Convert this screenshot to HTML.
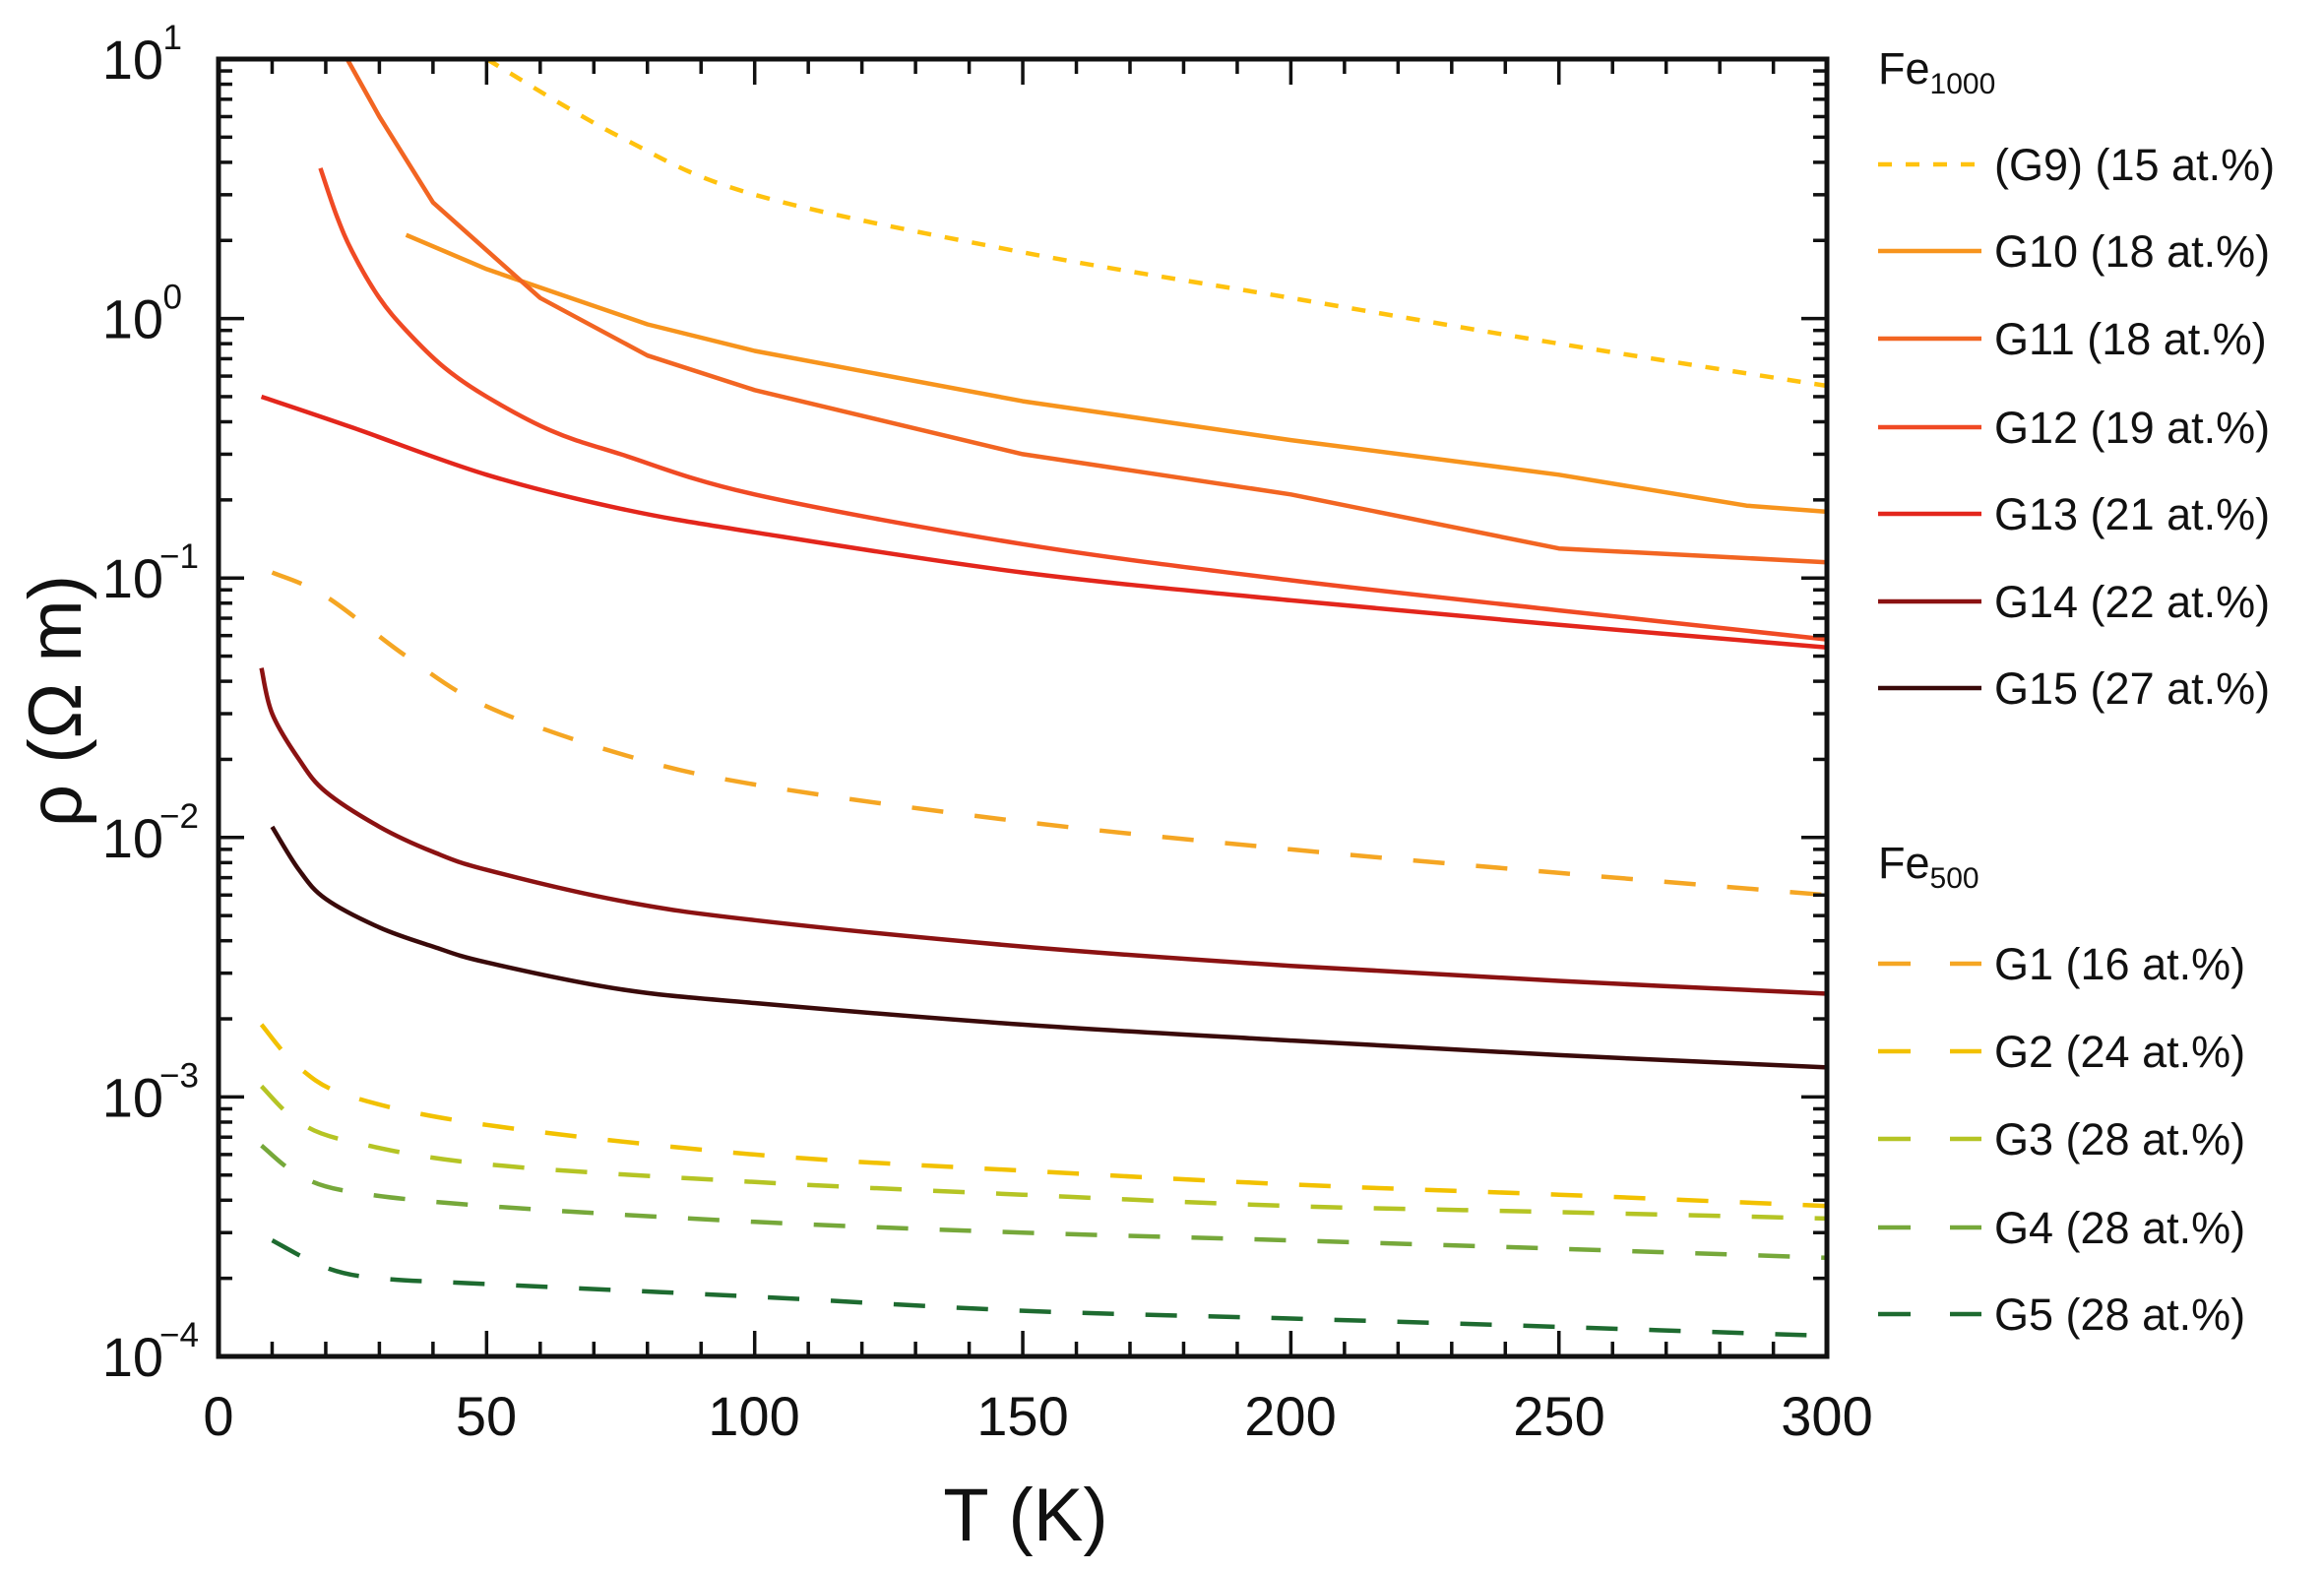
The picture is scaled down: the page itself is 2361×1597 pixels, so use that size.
<!DOCTYPE html>
<html><head><meta charset="utf-8"><style>
html,body{margin:0;padding:0;background:#fff;}
svg{display:block;font-family:"Liberation Sans",Arial,sans-serif;}
</style></head><body>
<svg id="s" width="2361" height="1597" viewBox="0 0 2361 1597" xmlns="http://www.w3.org/2000/svg">
<rect width="2361" height="1597" fill="#fff"/>
<g id="curves" fill="none" stroke-width="4.5" stroke-linejoin="round"></g>
<g id="ticks" stroke="#111" stroke-width="3.5"></g>
<rect x="222" y="60" width="1634" height="1318" fill="none" stroke="#111" stroke-width="5"/>
<g font-size="56" fill="#111" text-anchor="middle">
<text x="222" y="1458">0</text><text x="494" y="1458">50</text><text x="766" y="1458">100</text>
<text x="1039" y="1458">150</text><text x="1311" y="1458">200</text><text x="1584" y="1458">250</text>
<text x="1856" y="1458">300</text>
</g>
<g font-size="56" fill="#111" text-anchor="end" id="ylab"></g>
<text x="1042" y="1565" font-size="76" text-anchor="middle" fill="#111">T (K)</text>
<text transform="translate(82,712) rotate(-90)" font-size="76" text-anchor="middle" fill="#111">ρ (Ω m)</text>
<g font-size="45" fill="#111" id="leg"></g>
</svg>
<script>
var NS="http://www.w3.org/2000/svg";
function X(t){return 222+t*5.447;}
function Y(r){return 60+(1-Math.log10(r))*263.6;}
function el(n,a,p,txt){var e=document.createElementNS(NS,n);for(var k in a)e.setAttribute(k,a[k]);if(txt!==undefined)e.textContent=txt;p.appendChild(e);return e;}
var S=[
 ["#ffc20e","14 14",[[50,10],[75,5],[100,3],[150,1.8],[200,1.2],[250,0.8],[300,0.55]],1],
 ["#f7941d",null,[[35,2.1],[50,1.55],[80,0.95],[100,0.75],[150,0.48],[200,0.34],[250,0.25],[285,0.19],[300,0.18]],0],
 ["#f26522",null,[[24,10],[30,6],[40,2.8],[60,1.2],[80,0.72],[100,0.53],[150,0.3],[200,0.21],[250,0.13],[300,0.115]],0],
 ["#f04a24",null,[[19,3.8],[22,2.5],[25,1.8],[30,1.2],[35,0.9],[42,0.65],[50,0.5],[62,0.37],[75,0.3],[100,0.21],[150,0.135],[200,0.098],[250,0.075],[300,0.058]],1],
 ["#e3261c",null,[[8,0.5],[25,0.38],[50,0.25],[75,0.185],[100,0.15],[150,0.105],[200,0.082],[250,0.066],[300,0.054]],1],
 ["#8b1212",null,[[8,0.045],[10,0.03],[15,0.02],[20,0.015],[30,0.011],[40,0.0088],[50,0.0075],[75,0.0057],[100,0.0048],[150,0.0038],[200,0.0032],[250,0.0028],[300,0.0025]],1],
 ["#3a0a0a",null,[[10,0.011],[15,0.0075],[20,0.0058],[30,0.0045],[40,0.0038],[50,0.0033],[75,0.0026],[100,0.0023],[150,0.0019],[200,0.00165],[250,0.00145],[300,0.0013]],1],
 ["#f5a623","32 32",[[10,0.105],[20,0.085],[35,0.05],[50,0.032],[75,0.021],[100,0.016],[150,0.0115],[200,0.009],[250,0.0073],[300,0.006]],1],
 ["#f2c100","32 32",[[8,0.0019],[15,0.0013],[25,0.001],[50,0.00078],[100,0.0006],[150,0.00052],[200,0.00046],[250,0.00042],[300,0.00038]],1],
 ["#b5c424","32 32",[[8,0.0011],[15,0.0008],[25,0.00067],[50,0.00055],[100,0.00047],[150,0.00042],[200,0.00038],[250,0.00036],[300,0.00034]],1],
 ["#76a83a","32 32",[[8,0.00065],[15,0.0005],[25,0.00043],[50,0.00038],[100,0.00033],[150,0.0003],[200,0.00028],[250,0.00026],[300,0.00024]],1],
 ["#1e6b30","32 32",[[10,0.00028],[20,0.00022],[30,0.0002],[50,0.00019],[100,0.00017],[150,0.00015],[200,0.00014],[250,0.00013],[300,0.00012]],1]
];
var cg=document.getElementById("curves");
function f(v){return v.toFixed(1);}
S.forEach(function(s){var P=s[2].map(function(p){return [X(p[0]),Y(p[1])];});var d="M"+f(P[0][0])+","+f(P[0][1]);
 for(var i=0;i<P.length-1;i++){var p1=P[i],p2=P[i+1];
  if(s[3]){var p0=P[i-1]||p1,p3=P[i+2]||p2;
   var c1=[p1[0]+(p2[0]-p0[0])/6,p1[1]+(p2[1]-p0[1])/6],c2=[p2[0]-(p3[0]-p1[0])/6,p2[1]-(p3[1]-p1[1])/6];
   d+="C"+f(c1[0])+","+f(c1[1])+" "+f(c2[0])+","+f(c2[1])+" "+f(p2[0])+","+f(p2[1]);}
  else d+="L"+f(p2[0])+","+f(p2[1]);}
 var a={d:d,stroke:s[0]};if(s[1])a["stroke-dasharray"]=s[1];el("path",a,cg);});
var tg=document.getElementById("ticks");
for(var t=10;t<300;t+=10){var L=(t%50==0)?26:15;el("line",{x1:X(t),x2:X(t),y1:1378,y2:1378-L},tg);el("line",{x1:X(t),x2:X(t),y1:60,y2:60+L},tg);}
for(var dcd=-4;dcd<=1;dcd++){for(var m=1;m<=9;m++){if(dcd==1&&m>1)break;var y=Y(m*Math.pow(10,dcd));var L=m==1?26:14;
 el("line",{x1:222,x2:222+L,y1:y,y2:y},tg);el("line",{x1:1856,x2:1856-L,y1:y,y2:y},tg);}}
var yl=document.getElementById("ylab");
for(var e=1;e>=-4;e--){var y=Y(Math.pow(10,e));el("text",{x:166,y:y+20},yl,"10");
 el("text",{x:166+(e<0?36:19),y:y-10,"font-size":35,"text-anchor":"end"},yl,String(e).replace("-","−"));}
var lg=document.getElementById("leg");
function head(y,sub){var t=el("text",{x:1908,y:y},lg,"Fe");el("tspan",{"font-size":30,dy:10},t,sub);}
head(85,"1000");head(892,"500");
var items=[["(G9) (15 at.%)",0,167],["G10 (18 at.%)",1,255],["G11 (18 at.%)",2,344],["G12 (19 at.%)",3,434],["G13 (21 at.%)",4,522],["G14 (22 at.%)",5,611],["G15 (27 at.%)",6,699],
["G1 (16 at.%)",7,979],["G2 (24 at.%)",8,1068],["G3 (28 at.%)",9,1157],["G4 (28 at.%)",10,1247],["G5 (28 at.%)",11,1335]];
items.forEach(function(it){var s=S[it[1]];var a={x1:1908,x2:2013,y1:it[2],y2:it[2],stroke:s[0],"stroke-width":4.5};
 if(s[1])a["stroke-dasharray"]=(it[1]==0?"14 14":"33 40");el("line",a,lg);
 el("text",{x:2026,y:it[2]+16},lg,it[0]);});
</script>
</body></html>
